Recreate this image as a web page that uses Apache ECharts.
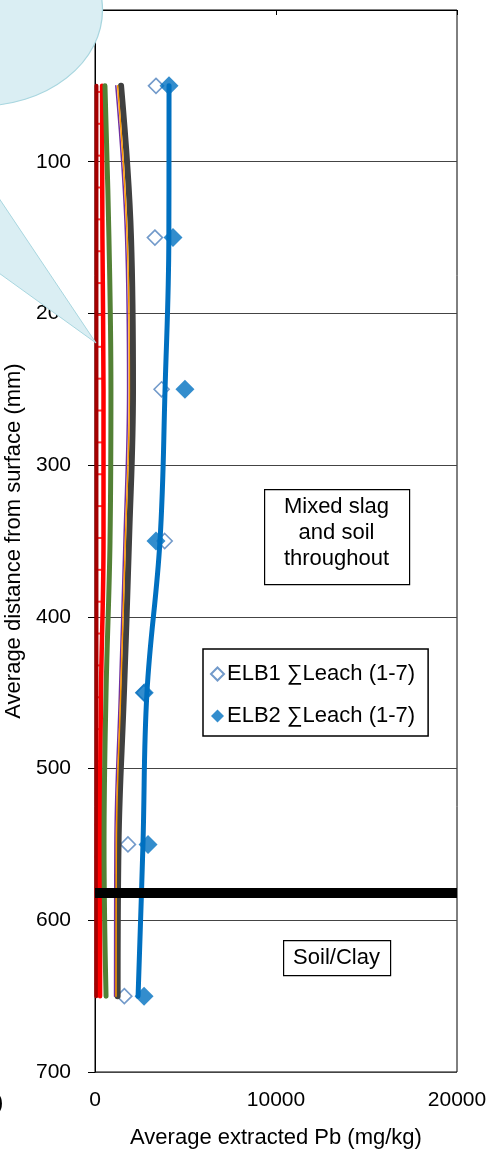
<!DOCTYPE html>
<html><head><meta charset="utf-8">
<script src="https://cdn.jsdelivr.net/npm/echarts@6/dist/echarts.min.js"></script>
<style>html,body{margin:0;padding:0;background:#fff}#c{width:490px;height:1160px}</style>
</head><body><div id="c"></div>
<script>
// depths (mm) of sample points
const depths = [50, 150, 250, 350, 450, 550, 650];
// marker series (mg/kg)
const elb1Leach = [3370, 3310, 3680, 3850, 2700, 1820, 1620];
const elb2Leach = [4090, 4310, 4970, 3370, 2720, 2930, 2710];
// smooth curves (mg/kg)
const blueCurve   = [4090, 4080, 3870, 3590, 2870, 2650, 2380];
const blackCurve  = [1440, 1990, 2100, 1880, 1600, 1300, 1250];
const orangeCurve = [1250, 1780, 1900, 1680, 1420, 1180, 1160];
const purpleCurve = [1150, 1690, 1800, 1600, 1350, 1100, 1080];
const greenCurve  = [550, 770, 880, 830, 610, 500, 610];
const redCurve    = [390, 410, 470, 470, 330, 280, 280];
const darkRedCurve= [80, 80, 80, 80, 80, 70, 70];
// small red tick marks along the red curve: [depth, value]
const redTicks = [[54,200],[75,200],[96,200],[117,210],[138,220],[159,220],[180,230],[201,240],[222,250],[243,260],[264,270],[285,280],[306,280],[327,280],[348,270],[369,260],[390,240],[411,220],[432,190],[453,170],[474,150],[495,140],[516,130],[537,120],[558,120],[579,120],[600,120],[621,120],[642,120]];
// soil boundary depth
const boundaryDepth = 582;
const xRange = [0, 20000];
const yTicks = [0, 100, 200, 300, 400, 500, 600, 700];

const FONT = '"Liberation Sans", Arial, sans-serif';
const pair = (vals) => vals.map((v, i) => [v, depths[i]]);

const lineSeries = (name, vals, color, width) => ({
  name, type: 'line', data: pair(vals), smooth: 0.4, symbol: 'none',
  lineStyle: { color, width, cap: 'round', join: 'round' }, silent: true
});

const chart = echarts.init(document.getElementById('c'), null, { renderer: 'canvas' });
chart.setOption({
  animation: false,
  backgroundColor: '#fff',
  textStyle: { fontFamily: FONT },
  grid: { left: 95, right: 33, top: 10, bottom: 88, show: true, borderColor: '#000', borderWidth: 1,
          containLabel: false, outerBoundsMode: 'none' },
  xAxis: {
    type: 'value', min: xRange[0], max: xRange[1], interval: 10000,
    name: 'Average extracted Pb (mg/kg)', nameLocation: 'middle', nameGap: 55,
    nameTextStyle: { fontSize: 22, color: '#000', fontFamily: FONT },
    axisLine: { show: true, lineStyle: { color: '#000', width: 1 } },
    axisTick: { show: true, length: 5, lineStyle: { color: '#000' } },
    axisLabel: { fontSize: 21, color: '#000', margin: 18, fontFamily: FONT, formatter: v => String(v) },
    splitLine: { show: false }
  },
  yAxis: {
    type: 'value', inverse: true, min: yTicks[0], max: yTicks[yTicks.length - 1], interval: 100,
    name: 'Average distance from surface (mm)', nameLocation: 'middle', nameGap: 68,
    nameTextStyle: { fontSize: 22, color: '#000', fontFamily: FONT },
    axisLine: { show: true, lineStyle: { color: '#000', width: 1 } },
    axisTick: { show: true, length: 7, lineStyle: { color: '#000' } },
    axisLabel: { fontSize: 21, color: '#000', margin: 24, fontFamily: FONT },
    splitLine: { show: true, lineStyle: { color: '#444', width: 1 } }
  },
  legend: {
    orient: 'vertical', left: 203, top: 649,
    data: ['ELB1 ∑Leach (1-7)', 'ELB2 ∑Leach (1-7)'],
    backgroundColor: '#fff', borderColor: '#000', borderWidth: 1.5,
    padding: [14, 13, 9, 7], itemGap: 20, itemWidth: 13, itemHeight: 13,
    textStyle: { fontSize: 22, color: '#000', fontFamily: FONT, padding: [0, 0, 0, -2] }
  },
  series: [
    lineSeries('darkred', darkRedCurve, '#A50000', 4),
    lineSeries('red', redCurve, '#FF0000', 4.5),
    { name: 'redticks', type: 'scatter', data: redTicks.map(d => [d[1], d[0]]), symbol: 'rect', symbolSize: [5, 2],
      itemStyle: { color: '#FF0000' }, silent: true },
    lineSeries('green', greenCurve, '#538135', 5),
    lineSeries('black', blackCurve, '#404040', 6),
    lineSeries('purple', purpleCurve, '#7030A0', 1.5),
    lineSeries('orange', orangeCurve, '#FF9900', 1.5),
    lineSeries('blue', blueCurve, '#0070C0', 5),
    { name: 'ELB1 ∑Leach (1-7)', type: 'scatter', data: pair(elb1Leach), symbol: 'diamond', symbolSize: 15,
      itemStyle: { color: '#fff', borderColor: '#4F81BD', borderWidth: 1.6 } },
    { name: 'ELB2 ∑Leach (1-7)', type: 'scatter', data: pair(elb2Leach), symbol: 'diamond', symbolSize: 19,
      itemStyle: { color: '#0070C0' } },
    { name: 'boundary', type: 'line', data: [[xRange[0], boundaryDepth], [xRange[1], boundaryDepth]], symbol: 'none',
      lineStyle: { color: '#000', width: 10 }, silent: true, z: 5 }
  ],
  graphic: [
    { type: 'rect', left: 264, top: 489, shape: { width: 145, height: 95 }, style: { fill: '#fff', stroke: '#000', lineWidth: 1.2 }, z: 50 },
    { type: 'text', x: 336.5, y: 533, style: { text: 'Mixed slag\nand soil\nthroughout', font: '22px ' + FONT, fill: '#000', align: 'center', verticalAlign: 'middle', lineHeight: 26 }, z: 51 },
    { type: 'rect', left: 283, top: 940, shape: { width: 107, height: 35 }, style: { fill: '#fff', stroke: '#000', lineWidth: 1.2 }, z: 50 },
    { type: 'text', x: 336.5, y: 958, style: { text: 'Soil/Clay', font: '22px ' + FONT, fill: '#000', align: 'center', verticalAlign: 'middle' }, z: 51 },
    { type: 'polygon', shape: { points: [[-40, 140], [96, 343], [-40, 245]] }, style: { fill: '#DAEEF3', stroke: '#A8D6DF', lineWidth: 1 }, z: 100 },
    { type: 'circle', x: -20, y: 10, scaleX: 122.5 / 96, scaleY: 1, shape: { cx: 0, cy: 0, r: 96 }, style: { fill: '#DAEEF3', stroke: '#A8D6DF', lineWidth: 1 }, z: 101 },
    { type: 'text', x: -4, y: 1103, style: { text: ')', font: '22px ' + FONT, fill: '#000', verticalAlign: 'middle' }, z: 100 }
  ]
});
</script>
</body></html>
